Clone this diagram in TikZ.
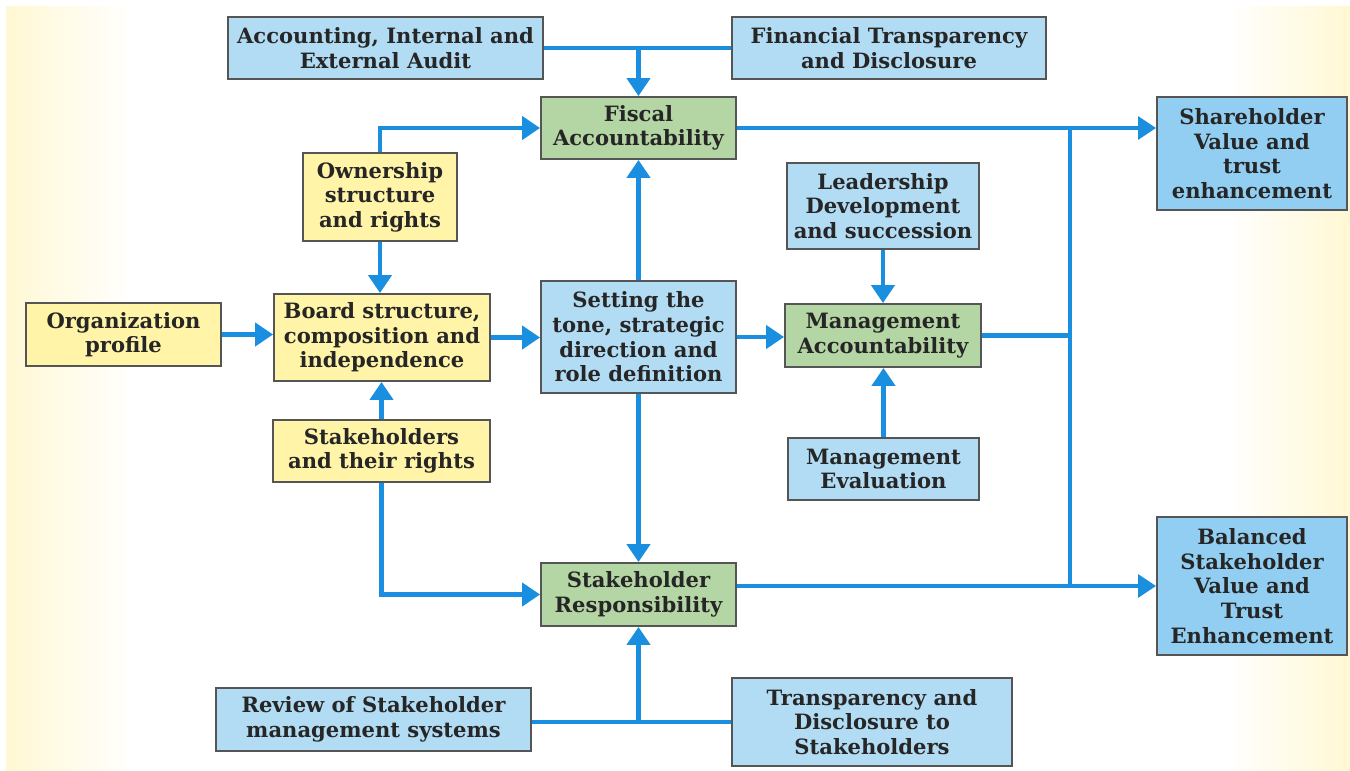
\documentclass[tikz,border=0pt]{standalone}
\usepackage{fontspec}
\setmainfont{DejaVu Serif}
\usepackage{tikz}
\usetikzlibrary{positioning, calc, arrows.meta}

\definecolor{paleBlue}{HTML}{B2DCF4}
\definecolor{deepBlue}{HTML}{92CEF1}
\definecolor{paleYellow}{HTML}{FFF4A8}
\definecolor{paleGreen}{HTML}{B4D5A4}
\definecolor{boxEdge}{HTML}{555555}
\definecolor{inkGray}{HTML}{262626}
\definecolor{flowBlue}{HTML}{1A8FE0}
\definecolor{creamEdge}{HTML}{FFF8D4}

\tikzset{
	govBox/.style={
		draw=boxEdge, line width=1.1pt, text=inkGray, align=center,
		inner sep=2pt, font=\fontsize{12}{14}\selectfont\bfseries
	}
}
\tikzstyle{blueBox}=[govBox, fill=paleBlue]
\tikzstyle{deepBox}=[govBox, fill=deepBlue]
\tikzstyle{yellowBox}=[govBox, fill=paleYellow]
\tikzstyle{greenBox}=[govBox, fill=paleGreen]
\tikzstyle{flowLine}=[draw=flowBlue, line width=2.5pt]
\tikzstyle{flowArrow}=[flowLine, -{Triangle[width=0.46cm, length=0.36cm]}]

\begin{document}
\begin{tikzpicture}[x=0.02cm, y=-0.02cm]
        % page and the cream side bands
        \useasboundingbox (0,0) rectangle (1350,771);
        \fill[white] (0,0) rectangle (1350,771);
        \shade[left color=creamEdge, right color=white] (6,6) rectangle (135,771);
        \shade[left color=white, right color=creamEdge] (1225,6) rectangle (1350,771);

        \node[blueBox, minimum width=6.3cm, minimum height=1.24cm] (acc) at (385.5, 48) {Accounting, Internal and\\External Audit};
        \node[blueBox, minimum width=6.28cm, minimum height=1.24cm] (fin) at (889, 48) {Financial Transparency\\and Disclosure};
        \node[greenBox, minimum width=3.9cm, minimum height=1.24cm] (fiscal) at (638.5, 128) {Fiscal\\Accountability};
        \node[yellowBox, minimum width=3.08cm, minimum height=1.76cm] (own) at (380, 197) {Ownership\\structure\\and rights};
        \node[blueBox, minimum width=3.84cm, minimum height=1.72cm] (lead) at (883, 206) {Leadership\\Development\\and succession};
        \node[deepBox, minimum width=3.8cm, minimum height=2.26cm] (share) at (1252, 153.5) {Shareholder\\Value and\\trust\\enhancement};

        \node[yellowBox, minimum width=3.9cm, minimum height=1.26cm] (org) at (123.5, 334.5) {Organization\\profile};
        \node[yellowBox, minimum width=4.32cm, minimum height=1.74cm] (board) at (382, 337.5) {Board structure,\\composition and\\independence};
        \node[blueBox, minimum width=3.9cm, minimum height=2.24cm] (tone) at (638.5, 337) {Setting the\\tone, strategic\\direction and\\role definition};
        \node[greenBox, minimum width=3.92cm, minimum height=1.26cm] (mgmt) at (883, 335.5) {Management\\Accountability};

        \node[yellowBox, minimum width=4.34cm, minimum height=1.24cm] (rights) at (381.5, 451) {Stakeholders\\and their rights};
        \node[blueBox, minimum width=3.82cm, minimum height=1.24cm] (eval) at (883.5, 469) {Management\\Evaluation};

        \node[greenBox, minimum width=3.9cm, minimum height=1.26cm] (resp) at (638.5, 594.5) {Stakeholder\\Responsibility};
        \node[deepBox, minimum width=3.8cm, minimum height=2.76cm] (bal) at (1252, 586) {Balanced\\Stakeholder\\Value and\\Trust\\Enhancement};

        \node[blueBox, minimum width=6.3cm, minimum height=1.26cm] (review) at (373.5, 719.5) {Review of Stakeholder\\management systems};
        \node[blueBox, minimum width=5.6cm, minimum height=1.76cm] (transp) at (872, 722) {Transparency and\\Disclosure to\\Stakeholders};

        % top feeders
        \draw[flowLine] (acc.east) -- (fin.west);
        \draw[flowArrow] (fiscal.north |- acc.east) -- (fiscal.north);

        % left column
        \draw[flowArrow] (own.north) |- (fiscal.west);
        \draw[flowArrow] (own.south) -- (own.south |- board.north);
        \draw[flowArrow] (org.east) -- (org.east -| board.west);
        \draw[flowArrow] (rights.north) -- (rights.north |- board.south);
        \draw[flowArrow] (rights.south) |- (resp.west);
        \draw[flowArrow] (board.east) -- (board.east -| tone.west);

        % centre
        \draw[flowArrow, line width=2.8pt] (tone.north) -- (fiscal.south);
        \draw[flowArrow, line width=2.8pt] (tone.south) -- (resp.north);
        \draw[flowArrow] (tone.east) -- (tone.east -| mgmt.west);
        \draw[flowArrow] (lead.south) -- (lead.south |- mgmt.north);
        \draw[flowArrow, line width=2.8pt] (eval.north) -- (eval.north |- mgmt.south);

        % right bus
        \coordinate (bus) at (1070, 0);
        \draw[flowArrow, line width=1.9pt] (fiscal.east) -- (fiscal.east -| share.west);
        \draw[flowLine] (bus |- fiscal.east) -- (bus |- bal.west);
        \draw[flowLine] (mgmt.east) -- (bus |- mgmt.east);
        \draw[flowArrow, line width=1.9pt] (bal.west -| resp.east) -- (bal.west);

        % bottom feeders
        \draw[flowLine] (transp.west -| review.east) -- (transp.west);
        \draw[flowArrow, line width=2.8pt] (resp.south |- transp.west) -- (resp.south);
\end{tikzpicture}
\end{document}
